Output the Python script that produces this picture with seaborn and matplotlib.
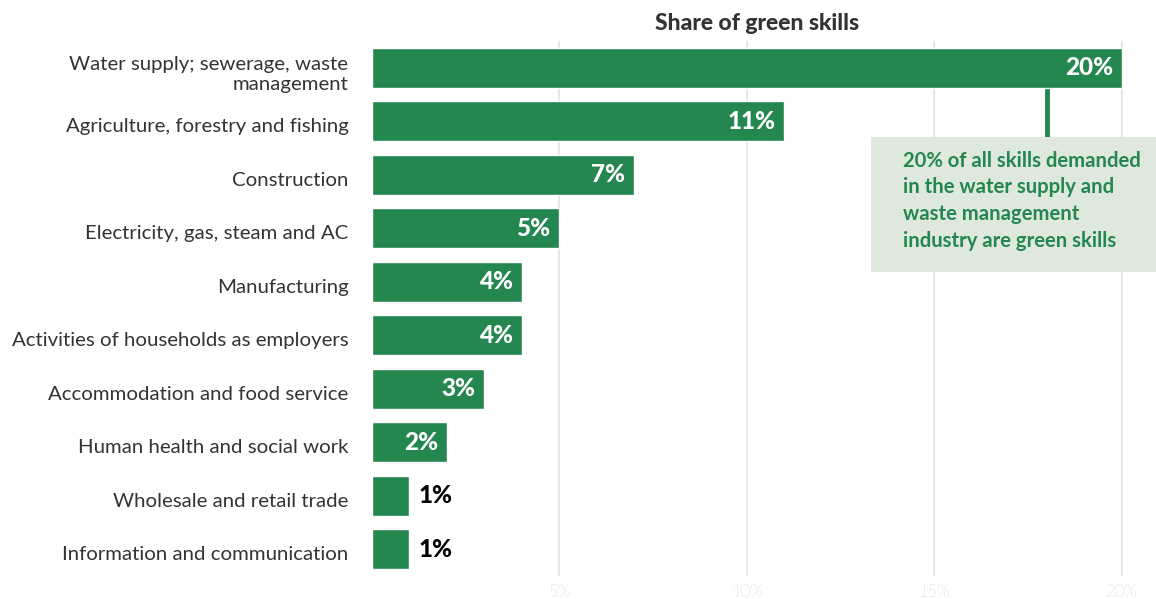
import matplotlib
matplotlib.use("Agg")
import matplotlib.pyplot as plt
from matplotlib.patches import Rectangle
import matplotlib.transforms as mtransforms
import seaborn as sns
import pandas as pd

categories = [
    "Water supply; sewerage, waste\nmanagement",
    "Agriculture, forestry and fishing",
    "Construction",
    "Electricity, gas, steam and AC",
    "Manufacturing",
    "Activities of households as employers",
    "Accommodation and food service",
    "Human health and social work",
    "Wholesale and retail trade",
    "Information and communication",
]
shares = [20, 11, 7, 5, 4, 4, 3, 2, 1, 1]
tick_values = [5, 10, 15, 20]
tick_labels = ["5%", "10%", "15%", "20%"]
note_text = ("20% of all skills demanded\nin the water supply and\n"
             "waste management\nindustry are green skills")

GREEN = "#23874f"
BOX = "#dfe8dd"
DARK = "#333333"

sns.set_theme(style="white")
plt.rcParams["font.family"] = ["Lato", "DejaVu Sans"]

df = pd.DataFrame({"industry": categories, "share": shares})

fig = plt.figure(figsize=(11.56, 5.99), dpi=100)
ax = fig.add_axes([372 / 1156, 1 - 576 / 599, 784 / 1156, 535 / 599])

for v in tick_values:
    ax.axvline(v, color="#e3e3e3", lw=1.2, zorder=0)

sns.barplot(data=df, x="share", y="industry", color=GREEN, width=0.74,
            saturation=1, ax=ax, zorder=2)

ax.set_xlim(0, 20.907)
ax.set_ylim(9.5, -0.5)
ax.set_xticks(tick_values)
ax.set_xticklabels(tick_labels, color="#b0b0b0", fontsize=12, fontweight="light")
ax.tick_params(axis="x", length=0, pad=6)
ax.tick_params(axis="y", length=0, pad=17)
shift = mtransforms.ScaledTranslation(0, -3 / 72, fig.dpi_scale_trans)
for lbl in ax.get_yticklabels():
    lbl.set_fontsize(14.7)
    lbl.set_color(DARK)
    lbl.set_horizontalalignment("right")
    lbl.set_transform(lbl.get_transform() + shift)
ax.set_xlabel("")
ax.set_ylabel("")
for s in ax.spines.values():
    s.set_visible(False)

# value labels: inside the bar in white, outside in black for short bars
for i, v in enumerate(shares):
    if v >= 2:
        ax.text(v - 0.24, i, f"{v}%", ha="right", va="center", color="white",
                fontsize=17.5, fontweight="black", zorder=3)
    else:
        ax.text(v + 0.25, i, f"{v}%", ha="left", va="center", color="black",
                fontsize=17.5, fontweight="black", zorder=3)

fig.text(757 / 1156, 1 - 24 / 599, "Share of green skills", ha="center",
         va="center", fontsize=16.5, fontweight="black", color=DARK)

# callout for the top bar
ax.plot([18, 18], [0.37, 1.3], color=GREEN, lw=3.5, zorder=1,
        solid_capstyle="butt", clip_on=False)
ax.add_patch(Rectangle((13.31, 1.29), 20.907 - 13.31, 2.52, facecolor=BOX,
                       edgecolor="none", zorder=3, clip_on=False))
ax.text(14.16, 1.55, note_text, ha="left", va="top", color=GREEN,
        fontsize=14.6, fontweight="bold", linespacing=1.42, zorder=4)

fig.savefig("out.png", dpi=100)
